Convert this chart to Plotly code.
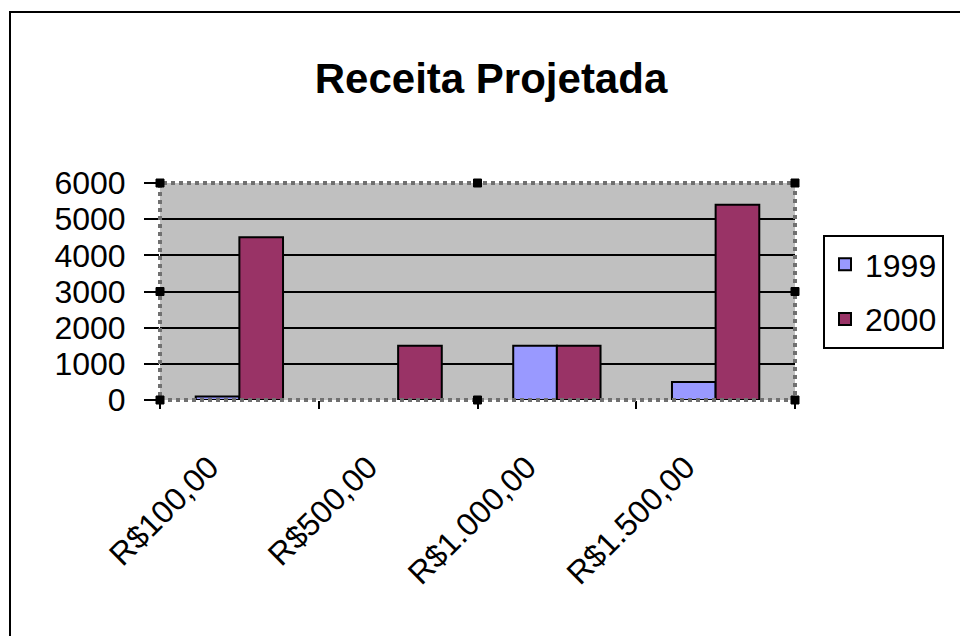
import plotly.graph_objects as go

categories = ["R$100,00", "R$500,00", "R$1.000,00", "R$1.500,00"]
series_names = ["1999", "2000"]
values_1999 = [100, None, 1500, 500]
values_2000 = [4500, 1500, 1500, 5400]
y_ticks = [0, 1000, 2000, 3000, 4000, 5000, 6000]

FONT = "Liberation Sans, Arial, sans-serif"
W, H = 960, 636
L, R, T, B = 160, 795, 183, 400  # plot area pixel bounds

fig = go.Figure()
fig.add_trace(go.Bar(x=categories, y=values_1999, name=series_names[0],
                     marker=dict(color="#9999FF", line=dict(color="black", width=2)),
                     legendgroup="a"))
fig.add_trace(go.Bar(x=categories, y=values_2000, name=series_names[1],
                     marker=dict(color="#993366", line=dict(color="black", width=2)),
                     legendgroup="b"))

def px2paper_x(px):
    return (px - L) / (R - L)

def px2paper_y(py):
    return (B - py) / (B - T)

shapes = []
# outer chart border (extends beyond window)
shapes.append(dict(type="rect", xref="paper", yref="paper",
                   x0=px2paper_x(10), x1=px2paper_x(980),
                   y0=px2paper_y(660), y1=px2paper_y(12),
                   line=dict(color="black", width=2), layer="below"))
# hatched selection border of plot area
shapes.append(dict(type="rect", xref="paper", yref="paper",
                   x0=0, x1=1, y0=0, y1=1,
                   line=dict(color="#707070", width=4, dash="dot"), layer="above"))
# selection handles
for hx, hy in [(L, T), ((L + R) / 2, T), (R, T), (L, (T + B) / 2), (R, (T + B) / 2),
               (L, B), ((L + R) / 2, B), (R, B)]:
    shapes.append(dict(type="rect", xref="paper", yref="paper",
                       x0=px2paper_x(hx - 4), x1=px2paper_x(hx + 4),
                       y0=px2paper_y(hy + 4), y1=px2paper_y(hy - 4),
                       line=dict(color="black", width=1), fillcolor="black",
                       layer="above"))

fig.update_layout(
    width=W, height=H,
    margin=dict(l=L, r=W - R, t=T, b=H - B),
    paper_bgcolor="white",
    plot_bgcolor="#C0C0C0",
    title=dict(text="<b>Receita Projetada</b>", x=491 / W, xanchor="center",
               xref="container",
               y=1 - 78 / H, yanchor="middle", yref="container",
               font=dict(family=FONT, size=42, color="black")),
    barmode="group",
    bargap=0.45,
    bargroupgap=0,
    font=dict(family=FONT, size=32, color="black"),
    legend=dict(x=823 / W, y=1 - 235 / H, xref="container", yref="container",
                xanchor="left", yanchor="top",
                bordercolor="black", borderwidth=2, bgcolor="white",
                font=dict(family=FONT, size=32, color="black"),
                tracegroupgap=10, itemsizing="constant"),
    shapes=shapes,
)

fig.update_xaxes(type="category", tickson="boundaries", ticks="outside",
                 ticklen=8, tickwidth=2, tickcolor="black",
                 tickangle=-45, showgrid=False, showline=False,
                 ticklabelshift=-30, ticklabelstandoff=41,
                 tickfont=dict(family=FONT, size=32, color="black"))
fig.update_yaxes(range=[0, 6000], tickvals=y_ticks, ticks="outside",
                 ticklen=15, tickwidth=2, tickcolor="black",
                 showgrid=True, gridcolor="black", gridwidth=2,
                 zeroline=False, showline=False,
                 ticklabelstandoff=12,
                 tickfont=dict(family=FONT, size=32, color="black"))

fig.write_html("out.html",
               config={"displayModeBar": False},
               post_script="document.body.style.margin='0';document.body.style.overflow='hidden';")
